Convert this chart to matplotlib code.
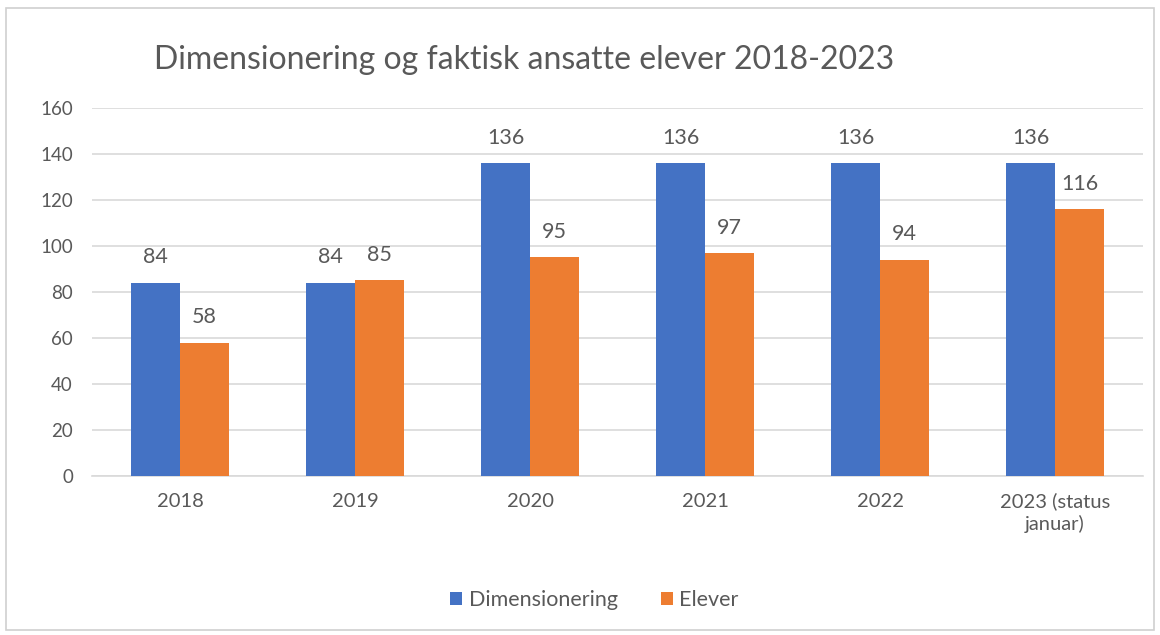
"""
Dimensionering vs faktisk ansatte elever, grouped bars
"""
import matplotlib.pyplot as plt
import numpy as np
from matplotlib.patches import Rectangle

years = ['2018', '2019', '2020', '2021', '2022', '2023 (status\njanuar)']
dimensionering = [84, 84, 136, 136, 136, 136]
elever = [58, 85, 95, 97, 94, 116]

c_dim = '#4472C4'
c_elev = '#ED7D31'
txt_c = '#595959'

plt.rcParams['font.family'] = ['Lato', 'DejaVu Sans']

fig = plt.figure(figsize=(11.6, 6.35), dpi=100)
ax = fig.add_axes([0.0797, 0.2504, 0.9053, 0.5796])

x = np.arange(len(years))
w = 0.28
b1 = ax.bar(x - w / 2, dimensionering, w, color=c_dim, label='Dimensionering', zorder=3)
b2 = ax.bar(x + w / 2, elever, w, color=c_elev, label='Elever', zorder=3)

for bars in (b1, b2):
    for rect in bars:
        h = rect.get_height()
        ax.annotate(f"{h:.0f}", (rect.get_x() + rect.get_width() / 2, h),
                    xytext=(0, 11), textcoords='offset points',
                    ha='center', va='bottom', fontsize=15.5, color=txt_c)

ax.set_xlim(-0.5, len(years) - 0.5)
ax.set_ylim(0, 160)
ax.set_yticks(range(0, 161, 20))
ax.set_xticks(x)
ax.set_xticklabels(years, linespacing=1.3)
ax.grid(axis='y', color='#D9D9D9', lw=1.2, zorder=0)
for s in ('top', 'right', 'left'):
    ax.spines[s].set_visible(False)
ax.spines['bottom'].set_color('#D9D9D9')
ax.spines['bottom'].set_linewidth(1.2)
ax.tick_params(length=0, labelsize=14.5, colors=txt_c, pad=12)
ax.tick_params(axis='y', labelsize=13.5, pad=14)

fig.text(0.452, 0.905, "Dimensionering og faktisk ansatte elever 2018-2023",
         ha='center', va='center', fontsize=23, color=txt_c)

ax.legend(loc='center', bbox_to_anchor=(0.478, -0.337), ncol=2, frameon=False,
          fontsize=15.5, labelcolor=txt_c, handlelength=0.55, handleheight=0.55,
          handletextpad=0.3, columnspacing=2.0)

fig.patches.append(Rectangle((0.005, 0.008), 0.99, 0.98, transform=fig.transFigure,
                             fill=False, ec='#D0D0D0', lw=1.2))

plt.savefig('out.png', dpi=100)
